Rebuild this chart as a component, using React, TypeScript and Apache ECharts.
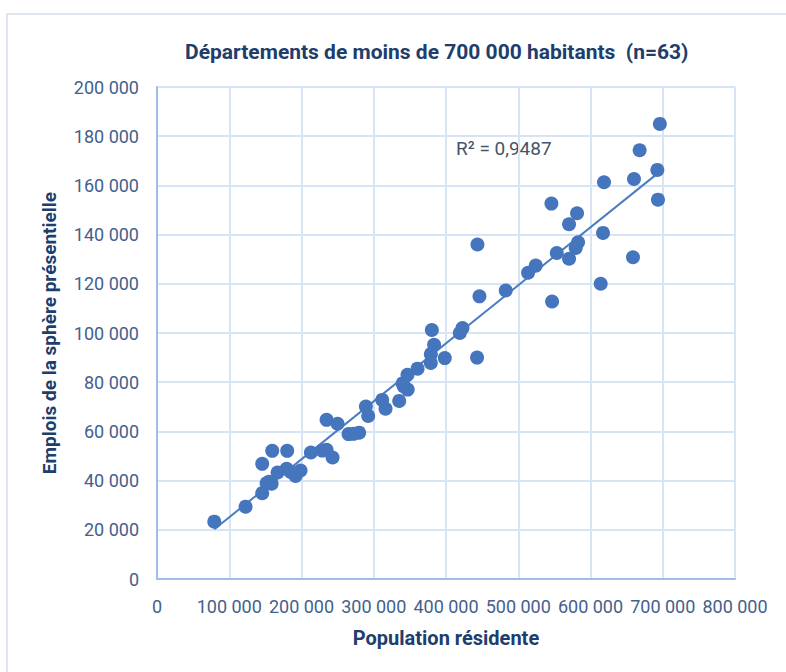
import React, { useEffect, useRef } from "react";
import * as echarts from "echarts";

const titleText = "Départements de moins de 700 000 habitants  (n=63)";
const xAxisName = "Population résidente";
const yAxisName = "Emplois de la sphère présentielle";
const r2Label = "R² = 0,9487";

const population: number[] = [
  696000, 668000, 692500, 618700, 660200, 693400, 545900, 581400, 570300, 443500,
  617300, 582800, 579500, 553300, 570300, 658800, 524200, 513600, 614100, 482700,
  446300, 546800, 380400, 422800, 419100, 383500, 379000, 379000, 398300, 360600,
  346700, 341600, 347000, 335200, 311700, 316300, 289100, 292300, 265100, 279800,
  234700, 249900, 213000, 228600, 234700, 243000, 159500, 180200, 145600, 166900,
  179400, 191800, 198700, 151700, 158600, 145600, 122600, 79300, 443000, 185000,
  272000, 340000, 155000,
];
const emplois: number[] = [
  185000, 174300, 166300, 161300, 162600, 154200, 152600, 148700, 144200, 136000,
  140700, 136900, 134600, 132500, 130200, 130800, 127400, 124500, 120000, 117300,
  114900, 112800, 101200, 102000, 100000, 95200, 91400, 87800, 89800, 85500,
  83000, 78300, 77000, 72400, 72800, 69200, 70100, 66300, 58900, 59500,
  64700, 63100, 51400, 52200, 52500, 49400, 52100, 52100, 46800, 43300,
  44800, 41900, 44100, 38900, 38700, 34900, 29400, 23300, 90000, 43500,
  59000, 79500, 39500,
];

const fmt = (v: number) =>
  String(Math.round(v)).replace(/\B(?=(\d{3})+(?!\d))/g, " ");

function regression(xs: number[], ys: number[]) {
  const n = xs.length;
  const mx = xs.reduce((a, b) => a + b, 0) / n;
  const my = ys.reduce((a, b) => a + b, 0) / n;
  let sxy = 0;
  let sxx = 0;
  for (let i = 0; i < n; i++) {
    sxy += (xs[i] - mx) * (ys[i] - my);
    sxx += (xs[i] - mx) * (xs[i] - mx);
  }
  const slope = sxy / sxx;
  return { slope, intercept: my - slope * mx };
}

export default function App() {
  const ref = useRef<HTMLDivElement>(null);
  useEffect(() => {
    if (!ref.current) return;
    const chart = echarts.init(ref.current, null, { renderer: "svg" });
    const pts = population.map((x, i) => [x, emplois[i]]);
    const { slope, intercept } = regression(population, emplois);
    const xmin = Math.min(...population);
    const xmax = Math.max(...population);
    const trend = [
      [xmin, intercept + slope * xmin],
      [xmax, intercept + slope * xmax],
    ];
    const labelColor = "#44608c";
    const nameColor = "#203d6b";
    chart.setOption({
      animation: false,
      backgroundColor: "#ffffff",
      textStyle: { fontFamily: "Roboto" },
      title: {
        text: titleText,
        left: 180,
        top: 36,
        textStyle: {
          fontFamily: "Roboto",
          fontWeight: "bold",
          fontSize: 21,
          color: nameColor,
        },
      },
      graphic: [
        {
          type: "rect",
          shape: { x: 7, y: 14, width: 790, height: 670 },
          style: { fill: "none", stroke: "#d5deea", lineWidth: 1.5 },
          silent: true,
          z: -10,
        },
        {
          type: "text",
          left: 456,
          top: 139,
          style: {
            text: r2Label,
            fontFamily: "Roboto",
            fontSize: 19,
            fill: "#44546a",
          },
        },
      ],
      grid: { left: 157, right: 51, top: 87, bottom: 93 },
      xAxis: {
        type: "value",
        min: 0,
        max: 800000,
        interval: 100000,
        name: xAxisName,
        nameLocation: "middle",
        nameGap: 49,
        nameTextStyle: {
          fontFamily: "Roboto",
          fontWeight: "bold",
          fontSize: 20,
          color: nameColor,
        },
        axisLine: { show: true, lineStyle: { color: "#9dbfe6", width: 2 } },
        axisTick: { show: false },
        axisLabel: {
          formatter: fmt,
          fontFamily: "Roboto",
          fontSize: 18,
          color: labelColor,
          margin: 18,
          hideOverlap: false,
        },
        splitLine: { show: true, lineStyle: { color: "#d6e4f5", width: 2 } },
      },
      yAxis: {
        type: "value",
        min: 0,
        max: 200000,
        interval: 20000,
        name: yAxisName,
        nameLocation: "middle",
        nameGap: 98,
        nameTextStyle: {
          fontFamily: "Roboto",
          fontWeight: "bold",
          fontSize: 19,
          color: nameColor,
        },
        axisLine: { show: true, lineStyle: { color: "#9dbfe6", width: 2 } },
        axisTick: { show: false },
        axisLabel: {
          formatter: fmt,
          fontFamily: "Roboto",
          fontSize: 18,
          color: labelColor,
          margin: 18,
        },
        splitLine: { show: true, lineStyle: { color: "#d6e4f5", width: 2 } },
      },
      series: [
        {
          type: "line",
          data: trend,
          symbol: "none",
          lineStyle: { color: "#4a7cc0", width: 2 },
          z: 3,
          silent: true,
        },
        {
          type: "scatter",
          data: pts,
          symbol: "circle",
          symbolSize: 14,
          itemStyle: { color: "#4575bd", opacity: 1 },
          z: 4,
        },
      ],
    });
    return () => chart.dispose();
  }, []);
  return (
    <div
      ref={ref}
      style={{ position: "fixed", left: 0, top: 0, width: 786, height: 672 }}
    />
  );
}
